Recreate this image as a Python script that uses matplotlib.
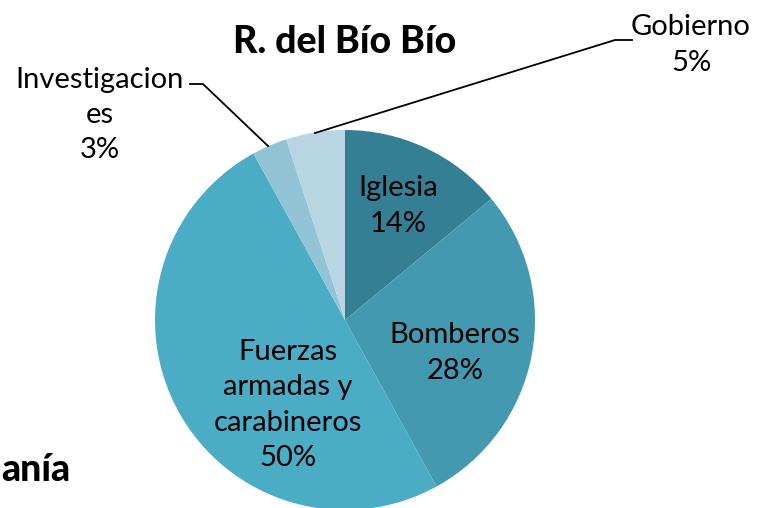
import matplotlib.pyplot as plt

# data
categories = ['Iglesia', 'Bomberos', 'Fuerzas\narmadas y\ncarabineros', 'Investigacion\nes', 'Gobierno']
shares = [14, 28, 50, 3, 5]
colors = ['#357F94', '#4399B0', '#4BACC6', '#93C4D5', '#B7D6E2']

W, H = 758, 508


def py(y):
    # pixel row (from top) to axis y
    return H - y


fig = plt.figure(figsize=(W / 100, H / 100), dpi=100)
ax = fig.add_axes([0, 0, 1, 1])

plt.rcParams['font.family'] = ['Lato', 'DejaVu Sans']

wedges, _ = ax.pie(shares, colors=colors, startangle=90, counterclock=False,
                   center=(345, py(320)), radius=190, frame=True,
                   wedgeprops=dict(edgecolor='none', linewidth=0))
ax.set_xlim(0, W)
ax.set_ylim(0, H)
ax.set_aspect('equal')
ax.axis('off')

fs = 21
ls = 1.45
lab = lambda s, v: f'{s}\n{v}%'

# labels inside the slices
ax.text(398, py(206), lab(categories[0], shares[0]), ha='center', va='center',
        fontsize=fs, linespacing=ls)
ax.text(455, py(353), lab(categories[1], shares[1]), ha='center', va='center',
        fontsize=fs, linespacing=ls)
ax.text(288, py(405), lab(categories[2], shares[2]), ha='center', va='center',
        fontsize=fs, linespacing=ls)

# outside labels with leader lines
ax.text(100, py(115), lab(categories[3], shares[3]), ha='center', va='center',
        fontsize=fs, linespacing=ls)
ax.plot([190, 203, 268], [py(84), py(84), py(146)], color='black', lw=1.3)

ax.text(691, py(45), lab(categories[4], shares[4]), ha='center', va='center',
        fontsize=fs, linespacing=ls)
ax.plot([315, 615, 632], [py(133), py(40), py(40)], color='black', lw=1.3)

# title and the clipped neighbouring title
ax.text(345, py(42), 'R. del Bío Bío', ha='center', va='center',
        fontsize=27, fontweight='black')
ax.text(1, py(470), 'anía', ha='left', va='center',
        fontsize=27, fontweight='black')

fig.savefig('out.png', dpi=100)
